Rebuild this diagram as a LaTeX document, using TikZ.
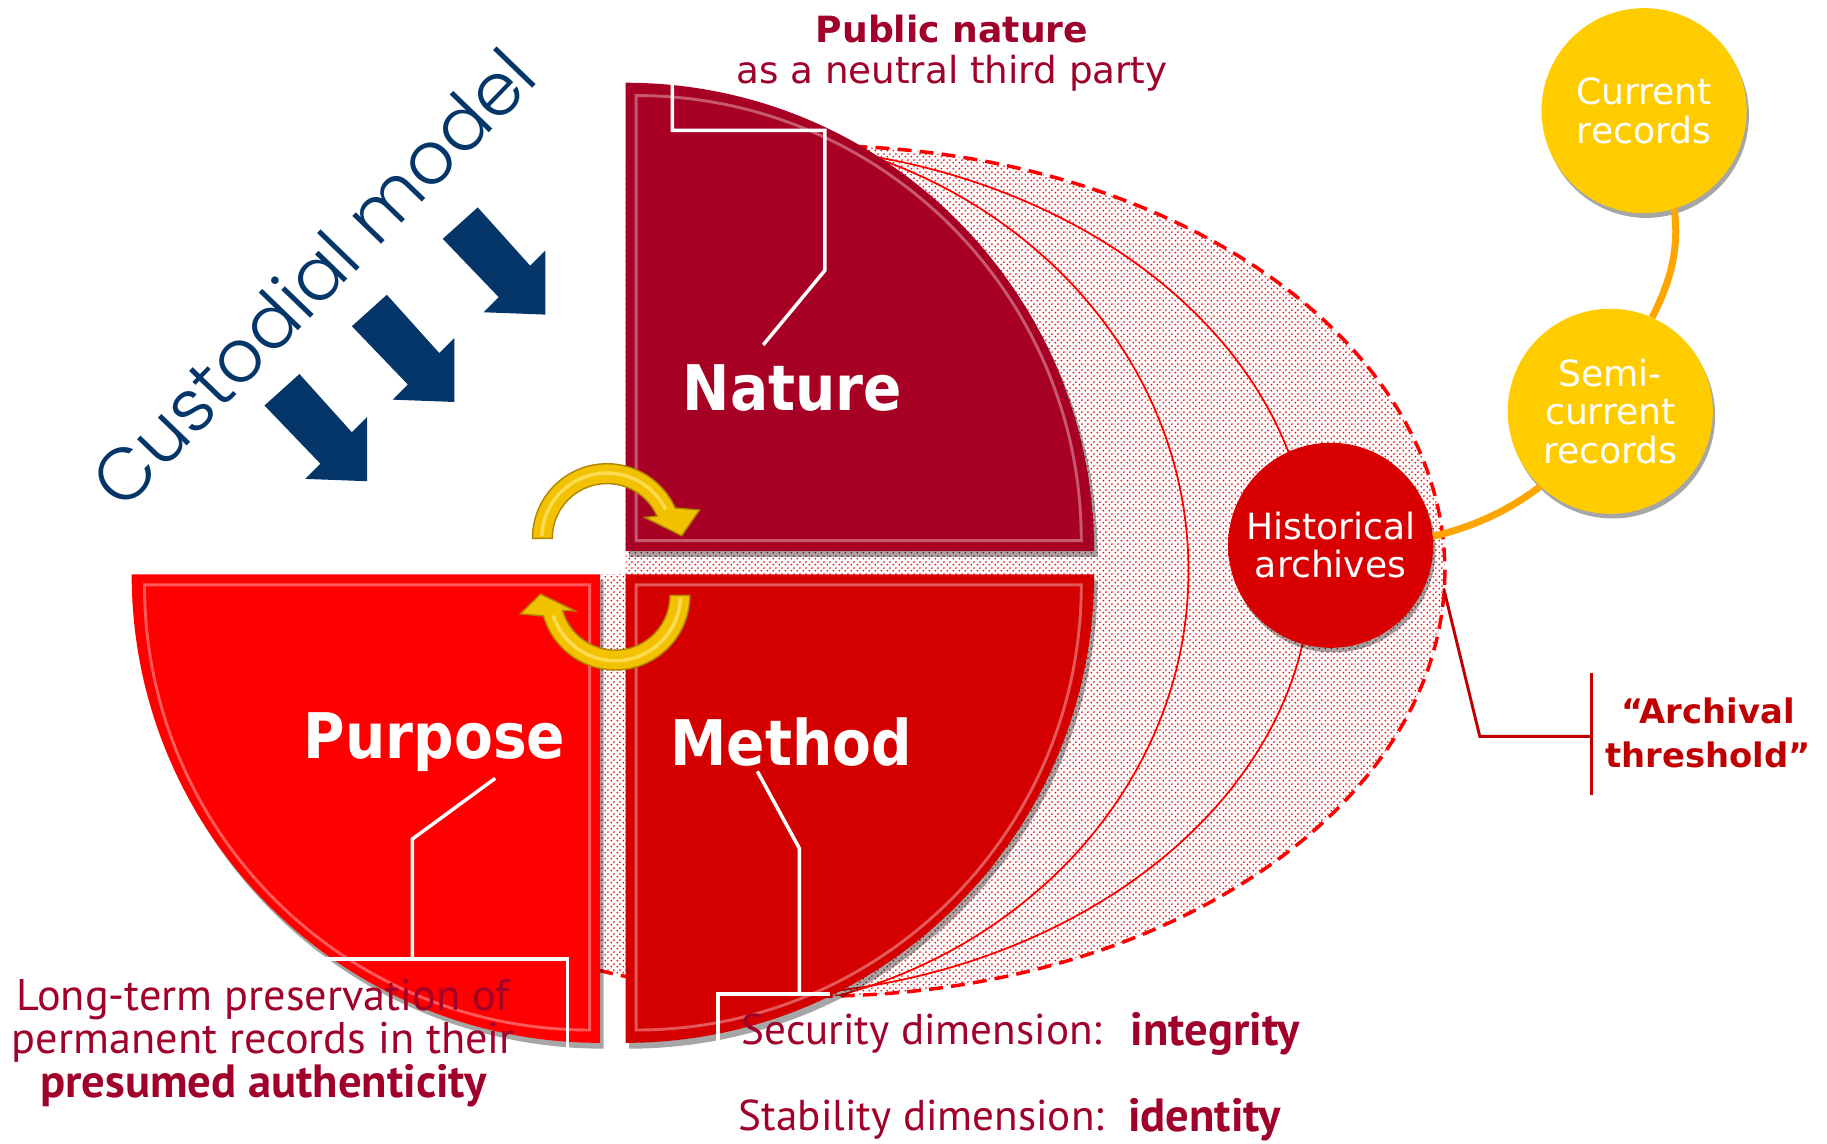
\documentclass[tikz,border=0pt]{standalone}
\usepackage{fontspec}
\setmainfont{DejaVu Sans}
\newfontfamily\popfont{Poppins Light}
\newfontfamily\labfont{DejaVu Sans}[FakeStretch=0.9]
\newfontfamily\ptfont{PT Sans}
\usetikzlibrary{patterns.meta,calc,shadows}

\definecolor{natc}{HTML}{A80024}
\definecolor{metc}{HTML}{D40000}
\definecolor{purc}{HTML}{FF0000}
\definecolor{txtred}{HTML}{A0002A}
\definecolor{cblue}{HTML}{04366A}
\definecolor{gold}{HTML}{FFCC00}
\definecolor{golddark}{HTML}{C99A00}
\definecolor{orline}{HTML}{FFA500}
\definecolor{thr}{HTML}{C00000}
\definecolor{histc}{HTML}{D80000}
\definecolor{histd}{HTML}{800000}
\definecolor{arrgold}{HTML}{F2C200}
\definecolor{arrdark}{HTML}{B08400}
\definecolor{arrlight}{HTML}{FFE066}

\pgfdeclareradialshading{hball}{\pgfpoint{0bp}{0bp}}{color(0bp)=(histc); color(38bp)=(histc); color(50bp)=(histd)}
\pgfdeclareradialshading{yball}{\pgfpoint{0bp}{0bp}}{color(0bp)=(gold); color(40bp)=(gold); color(50bp)=(golddark)}

\tikzdeclarepattern{
  name=reddots,
  type=uncolored,
  bounding box={(0pt,0pt) and (4.8pt,4.8pt)},
  tile size={(4.8pt,4.8pt)},
  code={\fill (1.2pt,1.2pt) circle [radius=0.9pt]; \fill (3.6pt,3.6pt) circle [radius=0.9pt];}
}

\begin{document}
\begin{tikzpicture}[x=1pt,y=-1pt,
  qshadow/.style={drop shadow={shadow xshift=3pt, shadow yshift=-5pt, opacity=0.35, fill=black}},
  bevel/.style={draw=white, draw opacity=0.35, line width=2.5},
  lbl/.style={text=white, font=\labfont\bfseries\fontsize{54}{60}\selectfont},
  circtxt/.style={text=white, font=\fontsize{31}{33}\selectfont, align=center},
  ball/.style={circle, minimum size=176pt, inner sep=0pt, drop shadow={shadow xshift=2pt, shadow yshift=-4pt, opacity=0.35, fill=black}},
  callout/.style={white, line width=3},
  conn/.style={orline, line width=6},
  ygarrow/.style={fill=arrgold, draw=arrdark, line width=1.2},
  yghigh/.style={arrlight, line width=3, opacity=0.8},
  bluearrow/.pic={\fill[cblue] (-88,-65) -- (-40,-15) -- (-53,-2) -- (0,0) -- (0,-55) -- (-13,-42) -- (-58,-92) -- cycle;}
]
\useasboundingbox (0,0) rectangle (1568,981);
\fill[white] (0,0) rectangle (1568,981);

% dotted region with inner arcs and dashed boundary
\begin{scope}
  \clip (537,-50) -- (1700,-50) -- (1700,1050) -- (515,1050) -- (515,493) -- (537,493) -- cycle;
  \begin{scope}
    \clip (700,490) ellipse [x radius=540, y radius=365];
    \fill[pattern=reddots, pattern color=red] (0,0) rectangle (1568,981);
    \draw[red, line width=1.5] (600,490) ellipse [x radius=420, y radius=380];
    \draw[red, line width=1.5] (640,490) ellipse [x radius=485, y radius=365];
  \end{scope}
  \draw[red, line width=3, dash pattern=on 12pt off 7pt] (700,490) ellipse [x radius=540, y radius=365];
\end{scope}

% quadrants
\path[fill=natc, qshadow] (537,473) -- (537,71) arc[start angle=270, end angle=360, radius=402] -- cycle;
\path[fill=metc, qshadow] (537,493) -- (939,493) arc[start angle=0, end angle=90, radius=402] -- cycle;
\path[fill=purc, qshadow] (515,493) -- (515,895) arc[start angle=90, end angle=180, radius=402] -- cycle;
\path[bevel] (546,464) -- (546,82) arc[start angle=270, end angle=360, radius=382] -- cycle;
\path[bevel] (546,502) -- (928,502) arc[start angle=0, end angle=90, radius=382] -- cycle;
\path[bevel] (506,502) -- (506,884) arc[start angle=90, end angle=180, radius=382] -- cycle;

% white callouts
\draw[callout] (655,296) -- (708,232) -- (708,112) -- (577,112) -- (577,72);
\draw[callout] (425,668) -- (354,720) -- (354,823);
\draw[callout] (274,823) -- (487,823) -- (487,900);
\draw[callout] (650,662) -- (686,728) -- (686,853);
\draw[callout] (616,900) -- (616,853) -- (712,853);

% quadrant labels
\node[lbl] (nat) at (680,333) {Nature};
\node[lbl] (pur) at (373,637) {Purpose};
\node[lbl] (met) at (679,637) {Method};

% yellow cycle arrows
\path[ygarrow] (521,462) ++(180:64) arc[start angle=180, end angle=336, radius=64]
  -- ($(521,462)+(343:83)$) -- ($(521,462)+(358:64)$) -- ($(521,462)+(331:37)$)
  -- ($(521,462)+(336:47)$) arc[start angle=336, end angle=180, radius=47] -- cycle;
\draw[yghigh] (521,462) ++(182:56) arc[start angle=182, end angle=334, radius=56];
\path[ygarrow] (528,511) ++(0:64) arc[start angle=0, end angle=164, radius=64]
  -- ($(528,511)+(169:83)$) -- ($(528,511)+(181:64)$) -- ($(528,511)+(159:37)$)
  -- ($(528,511)+(164:47)$) arc[start angle=164, end angle=0, radius=47] -- cycle;
\draw[yghigh] (528,511) ++(2:56) arc[start angle=2, end angle=162, radius=56];

% record circles
\node[ball, shading=hball, circtxt] (hist) at (1142,468) {Historical\\archives};
\node[ball, shading=yball, circtxt] (cur) at (1411,95) {Current\\records};
\node[ball, shading=yball, circtxt] (semi) at (1382,353) {Semi-\\current\\records};
\draw[conn] (cur.-73) .. controls (1442,215) and (1432,245) .. (semi.66);
\draw[conn] (hist.5) .. controls (1265,452) and (1295,438) .. (semi.227);

% archival threshold
\coordinate (thr0) at (1239,505);
\node[text=thr, font=\bfseries\fontsize{29}{38}\selectfont, align=center] (arch) at (1466,629) {“Archival\\threshold”};
\draw[thr, line width=2.5] (thr0) -- (1270,632) -- (1366,632);
\draw[thr, line width=2.5] (1366,578) -- (1366,682);

% texts
\node[text=txtred, font=\bfseries\fontsize{31}{36}\selectfont] (pub) at (817,25) {Public nature};
\node[text=txtred, font=\fontsize{32}{36}\selectfont] (pub2) at (817,63) {as a neutral third party};
\node[text=txtred, font=\ptfont\fontsize{38}{37.5}\selectfont, align=center] (lt) at (226,895)
  {Long-term preservation of\\permanent records in their\\{\bfseries\fontsize{40}{37.5}\selectfont presumed authenticity}};
\node[text=txtred, font=\ptfont\fontsize{37}{40}\selectfont, anchor=west] (sec) at (633,887) {Security dimension:};
\node[text=txtred, font=\ptfont\bfseries\fontsize{40}{40}\selectfont, anchor=west] (integ) at (967,887) {integrity};
\node[text=txtred, font=\ptfont\fontsize{37}{40}\selectfont, anchor=west, inner sep=1pt] (stab) at (633,961) {Stability dimension:};
\node[text=txtred, font=\ptfont\bfseries\fontsize{40}{40}\selectfont, anchor=west, inner sep=1pt] (ident) at (967,961) {identity};

% custodial model
\node[rotate=46, text=cblue, font=\popfont\fontsize{63}{63}\selectfont] (cust) at (268,238) {Custodial model};
\pic at (468,270) {bluearrow};
\pic at (390,345) {bluearrow};
\pic at (315,413) {bluearrow};
\end{tikzpicture}
\end{document}
